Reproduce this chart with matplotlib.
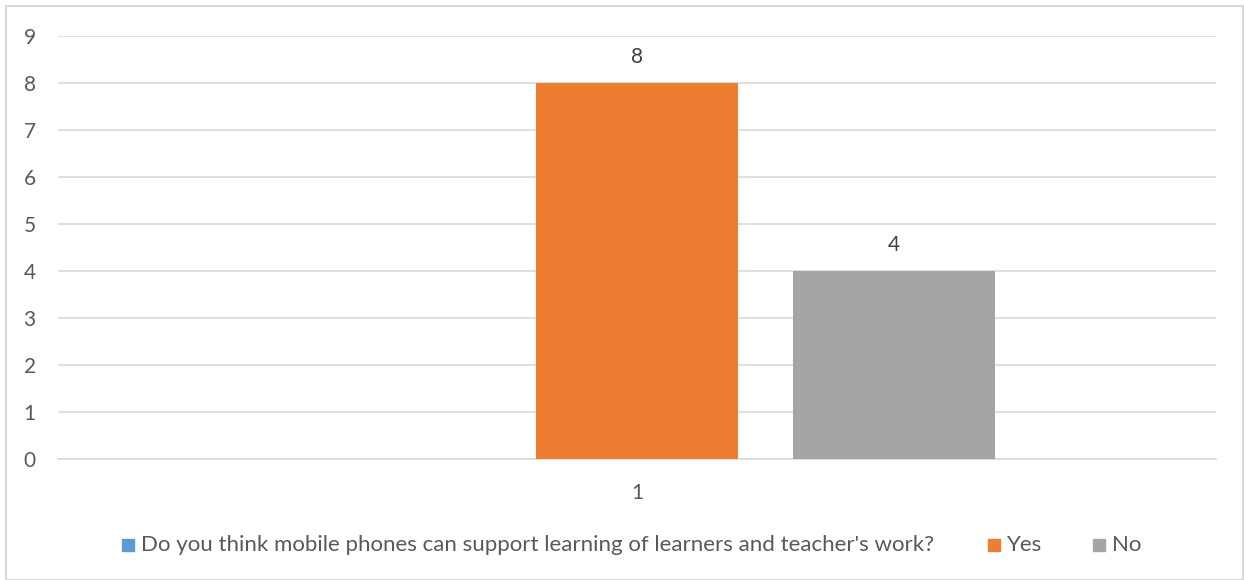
import matplotlib.pyplot as plt
from matplotlib.patches import Rectangle

plt.rcParams['font.family'] = ['Lato', 'DejaVu Sans']

categories = ['1']
series_names = ["Do you think mobile phones can support learning of learners and teacher's work?", 'Yes', 'No']
series_values = [0, 8, 4]
series_labels = [None, '8', '4']
colors = ['#5B9BD5', '#ED7D31', '#A5A5A5']
yticks = list(range(0, 10))

fig = plt.figure(figsize=(12.44, 5.8), dpi=100)
ax = fig.add_axes([58 / 1244, 1 - 459 / 580, (1216 - 58) / 1244, (459 - 36) / 580])

width = 0.1744
offsets = [-0.2219, 0, 0.2219]
for name, val, lab, col, off in zip(series_names, series_values, series_labels, colors, offsets):
    bars = ax.bar(off, val, width=width, color=col, zorder=3)
    if lab:
        ax.text(off, val + 0.33, lab, ha='center', va='bottom', fontsize=15, color='#404040')

ax.set_xlim(-0.5, 0.5)
ax.set_ylim(0, 9)
ax.set_yticks(yticks)
ax.set_yticklabels([str(t) for t in yticks], fontsize=15, color='#595959')
ax.set_xticks([0])
ax.set_xticklabels(categories, fontsize=15, color='#595959')
ax.tick_params(axis='both', length=0)
ax.tick_params(axis='y', pad=16)
ax.tick_params(axis='x', pad=17)
ax.grid(axis='y', color='#D9D9D9', linewidth=1.2, zorder=0)
for s in ['top', 'right', 'left']:
    ax.spines[s].set_visible(False)
ax.spines['bottom'].set_color('#D9D9D9')
ax.spines['bottom'].set_linewidth(1.2)

# legend drawn by hand along the bottom
legend_x = [122, 988, 1093]
for name, col, x in zip(series_names, colors, legend_x):
    fig.patches.append(Rectangle((x / 1244, 1 - 551 / 580), 12 / 1244, 12 / 580,
                                 transform=fig.transFigure, color=col))
    fig.text((x + 19) / 1244, 1 - 545 / 580, name, ha='left', va='center',
             fontsize=16, color='#595959')

# chart border
fig.patches.append(Rectangle((6 / 1244, 0), 1 - 6 / 1244 - 1 / 1244, 1 - 6 / 580,
                             transform=fig.transFigure, fill=False,
                             edgecolor='#D9D9D9', linewidth=1.5))

fig.savefig('out.png', dpi=100)
